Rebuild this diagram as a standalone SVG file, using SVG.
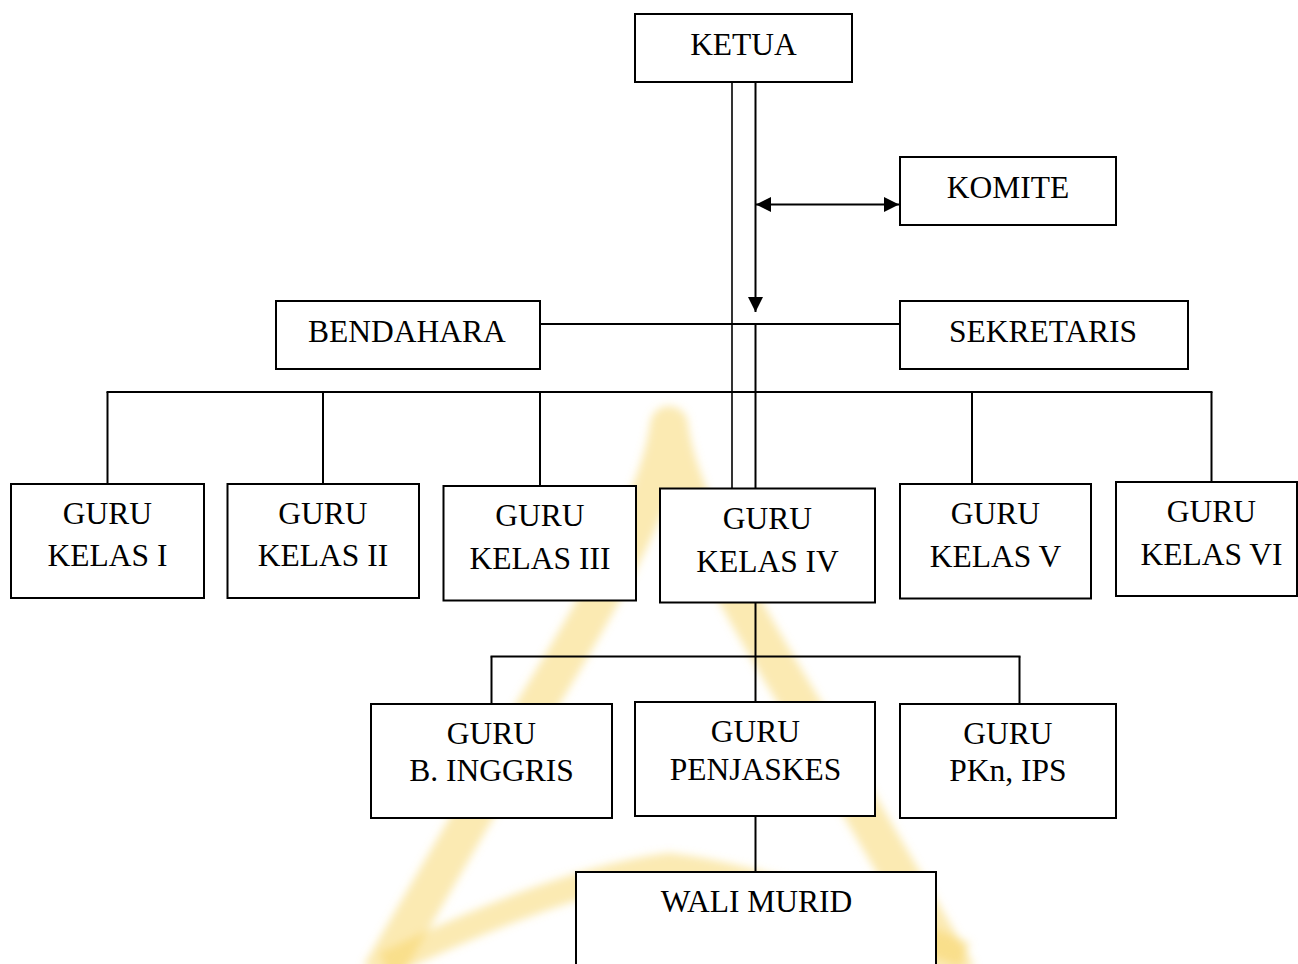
<svg xmlns="http://www.w3.org/2000/svg" width="1298" height="964" viewBox="0 0 1298 964">
  <style>
    .box { fill: #ffffff; stroke: #000000; stroke-width: 2; }
    .lbl { font-family: "Liberation Serif", "Times New Roman", serif; font-size: 31.5px; fill: #000000; text-anchor: middle; }
    .ln { stroke: #000000; stroke-width: 2; fill: none; }
    .thin { stroke: #000000; stroke-width: 1.6; fill: none; }
    .wm { fill: none; stroke: #f8d566; stroke-linecap: butt; stroke-linejoin: round; opacity: 0.5; }
  </style>
  <defs>
    <marker id="arrow" viewBox="0 0 10 10" refX="10" refY="5" markerWidth="15" markerHeight="15" markerUnits="userSpaceOnUse" orient="auto-start-reverse">
      <path d="M0,0 L10,5 L0,10 z" fill="#000000"/>
    </marker>
    <filter id="soft" x="-10%" y="-10%" width="120%" height="120%">
      <feGaussianBlur stdDeviation="4"/>
    </filter>
  </defs>
  <rect x="0" y="0" width="1298" height="964" fill="#ffffff"/>

  <g id="watermark" filter="url(#soft)">
    <path class="wm" stroke-width="38" d="M380,975 L540,700 C588,621 660,500 669,425 C678,500 750,621 798,700 L958,975"/>
    <path class="wm" stroke-width="26" d="M385,965 Q560,880 669,866 Q780,880 965,955"/>
  </g>

  <g id="connectors">
    <line class="thin" x1="732" y1="82" x2="732" y2="488"/>
    <line class="ln" x1="755.5" y1="82" x2="755.5" y2="312" marker-end="url(#arrow)"/>
    <line class="ln" x1="756" y1="204.5" x2="899" y2="204.5" marker-start="url(#arrow)" marker-end="url(#arrow)"/>
    <line class="ln" x1="540" y1="324" x2="900" y2="324"/>
    <line class="ln" x1="755.5" y1="324" x2="755.5" y2="488"/>
    <line class="ln" x1="106.5" y1="392" x2="1212.5" y2="392"/>
    <line class="ln" x1="107.5" y1="392" x2="107.5" y2="484"/>
    <line class="ln" x1="323" y1="392" x2="323" y2="484"/>
    <line class="ln" x1="540" y1="392" x2="540" y2="486"/>
    <line class="ln" x1="972" y1="392" x2="972" y2="484"/>
    <line class="ln" x1="1211.5" y1="392" x2="1211.5" y2="482"/>
    <line class="ln" x1="755.5" y1="602.5" x2="755.5" y2="702"/>
    <line class="ln" x1="490.5" y1="656.5" x2="1020.5" y2="656.5"/>
    <line class="ln" x1="491.5" y1="656.5" x2="491.5" y2="704"/>
    <line class="ln" x1="1019.5" y1="656.5" x2="1019.5" y2="704"/>
    <line class="ln" x1="755.5" y1="816" x2="755.5" y2="872"/>
  </g>

  <g id="ketua">
    <rect class="box" x="635" y="14" width="217" height="68"/>
    <text class="lbl" x="743.5" y="55">KETUA</text>
  </g>
  <g id="komite">
    <rect class="box" x="900" y="157" width="216" height="68"/>
    <text class="lbl" x="1008" y="198">KOMITE</text>
  </g>
  <g id="bendahara">
    <rect class="box" x="276" y="301" width="264" height="68"/>
    <text class="lbl" x="407" y="342">BENDAHARA</text>
  </g>
  <g id="sekretaris">
    <rect class="box" x="900" y="301" width="288" height="68"/>
    <text class="lbl" x="1043" y="342">SEKRETARIS</text>
  </g>

  <g id="guru-kelas-1">
    <rect class="box" x="11" y="484" width="193" height="114"/>
    <text class="lbl" x="107.5" y="524">GURU</text>
    <text class="lbl" x="107.5" y="566">KELAS I</text>
  </g>
  <g id="guru-kelas-2">
    <rect class="box" x="227.5" y="484" width="191.5" height="114"/>
    <text class="lbl" x="323" y="524">GURU</text>
    <text class="lbl" x="323" y="566">KELAS II</text>
  </g>
  <g id="guru-kelas-3">
    <rect class="box" x="443.5" y="486" width="192.5" height="114.5"/>
    <text class="lbl" x="540" y="526">GURU</text>
    <text class="lbl" x="540" y="569">KELAS III</text>
  </g>
  <g id="guru-kelas-4">
    <rect class="box" x="660" y="488.5" width="215" height="114"/>
    <text class="lbl" x="767.5" y="529">GURU</text>
    <text class="lbl" x="767.5" y="572">KELAS IV</text>
  </g>
  <g id="guru-kelas-5">
    <rect class="box" x="900" y="484" width="191" height="114.5"/>
    <text class="lbl" x="995.5" y="524">GURU</text>
    <text class="lbl" x="995.5" y="567">KELAS V</text>
  </g>
  <g id="guru-kelas-6">
    <rect class="box" x="1116" y="482" width="181" height="114"/>
    <text class="lbl" x="1211.5" y="522">GURU</text>
    <text class="lbl" x="1211.5" y="565">KELAS VI</text>
  </g>

  <g id="guru-b-inggris">
    <rect class="box" x="371" y="704" width="241" height="114"/>
    <text class="lbl" x="491.5" y="744">GURU</text>
    <text class="lbl" x="491.5" y="781">B. INGGRIS</text>
  </g>
  <g id="guru-penjaskes">
    <rect class="box" x="635" y="702" width="240" height="114"/>
    <text class="lbl" x="755.5" y="742">GURU</text>
    <text class="lbl" x="755.5" y="780">PENJASKES</text>
  </g>
  <g id="guru-pkn-ips">
    <rect class="box" x="900" y="704" width="216" height="114"/>
    <text class="lbl" x="1008" y="744">GURU</text>
    <text class="lbl" x="1008" y="781">PKn, IPS</text>
  </g>

  <g id="wali-murid">
    <rect class="box" x="576" y="872" width="360" height="110"/>
    <text class="lbl" x="756.5" y="912">WALI MURID</text>
  </g>
</svg>
